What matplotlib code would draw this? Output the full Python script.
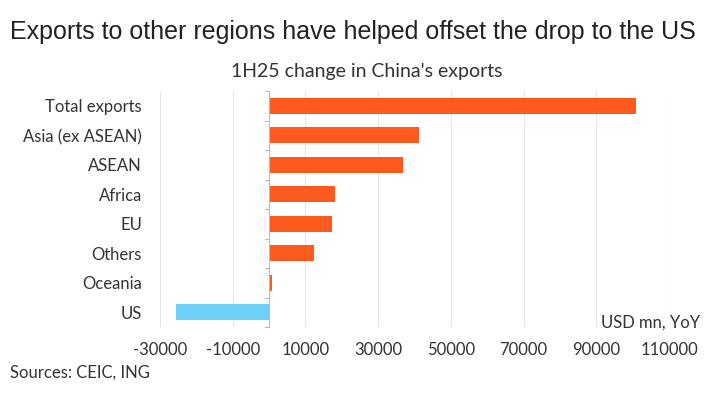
import matplotlib
matplotlib.use("Agg")
import matplotlib.pyplot as plt

regions = ["Total exports", "Asia (ex ASEAN)", "ASEAN", "Africa", "EU",
           "Others", "Oceania", "US"]
change = [101000, 41200, 36800, 18000, 17200, 12300, 800, -25600]
xticks = [-30000, -10000, 10000, 30000, 50000, 70000, 90000, 110000]

orange = "#FF5A1E"
blue = "#6DD0F7"
colors = [blue if v < 0 else orange for v in change]

fig = plt.figure(figsize=(7.21, 3.93), dpi=100)
ax = fig.add_axes([0.222, 0.168, 0.706, 0.600])

ypos = list(range(len(regions)))
ax.barh(ypos, change, height=0.55, color=colors, zorder=3)

ax.set_xlim(-30000, 110000)
ax.set_ylim(len(regions) - 0.5, -0.5)
ax.set_xticks(xticks)
ax.set_xticklabels([str(t) for t in xticks])
ax.set_yticks(ypos)
ax.set_yticklabels(regions)
ax.tick_params(axis="both", length=0, labelsize=12, colors="#333333")
ax.tick_params(axis="x", pad=11)
ax.tick_params(axis="y", pad=13)
for lab in ax.get_xticklabels() + ax.get_yticklabels():
    lab.set_fontfamily("Lato")

ax.grid(axis="x", color="#e6e6e6", linewidth=0.8, zorder=0)
for s in ax.spines.values():
    s.set_visible(False)

# zero axis with small category ticks
ax.axvline(0, color="#bbbbbb", linewidth=0.8, zorder=4)
for k in range(len(regions) + 1):
    ax.plot([-1100, 0], [k - 0.5, k - 0.5], color="#bbbbbb", linewidth=0.8,
            zorder=4, clip_on=False)

fig.text(0.971, 0.178, "USD mn, YoY", ha="right", va="center",
         fontsize=12, family="Lato", color="#333333")

fig.text(0.014, 0.918, "Exports to other regions have helped offset the drop to the US",
         fontsize=18, family="Liberation Sans", color="#222222", va="center")
fig.text(0.508, 0.817, "1H25 change in China's exports", ha="center", va="center",
         fontsize=14, family="Lato", color="#333333")
fig.text(0.014, 0.052, "Sources: CEIC, ING", fontsize=12, family="Lato",
         color="#333333", va="center")

fig.savefig("out.png", dpi=100)
